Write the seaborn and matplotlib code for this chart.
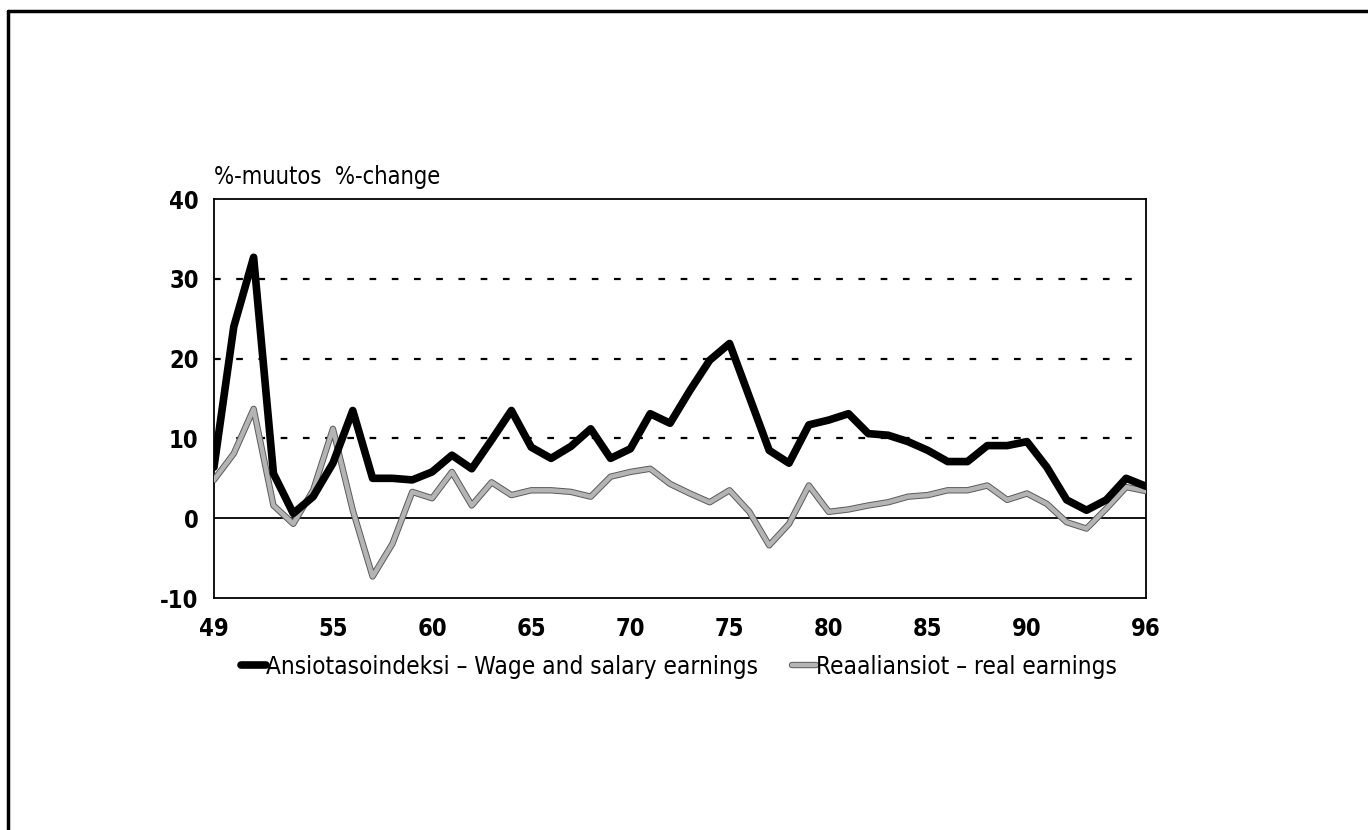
import pandas as pd
import matplotlib.pyplot as plt
import matplotlib.patheffects as pe
from matplotlib.lines import Line2D
from matplotlib.ticker import MultipleLocator, FixedLocator
import seaborn as sns

# Vuodet 1949-1996
years = list(range(49, 97))

# Ansiotasoindeksi - Wage and salary earnings (%-muutos)
wage = [6.4, 24.0, 32.7, 5.6, 0.6, 2.7, 6.9, 13.5, 5.0, 5.0,
        4.8, 5.8, 7.9, 6.2, 9.8, 13.5, 8.9, 7.5, 9.0, 11.2,
        7.5, 8.7, 13.1, 11.9, 16.0, 19.8, 21.9, 15.2, 8.5, 6.9,
        11.7, 12.3, 13.1, 10.6, 10.4, 9.6, 8.5, 7.1, 7.1, 9.1,
        9.1, 9.6, 6.4, 2.3, 1.0, 2.3, 5.0, 4.0]

# Reaaliansiot - real earnings (%-muutos)
real = [4.8, 8.1, 13.7, 1.6, -0.7, 3.5, 11.2, 1.0, -7.3, -3.2,
        3.3, 2.5, 5.8, 1.6, 4.5, 2.9, 3.5, 3.5, 3.3, 2.7,
        5.2, 5.8, 6.2, 4.3, 3.1, 2.0, 3.5, 0.8, -3.4, -0.7,
        4.1, 0.8, 1.1, 1.6, 2.0, 2.7, 2.9, 3.5, 3.5, 4.1,
        2.3, 3.1, 1.8, -0.5, -1.3, 1.2, 3.9, 3.4]

xtick_labels = [49, 55, 60, 65, 70, 75, 80, 85, 90, 96]
ytick_values = [-10, 0, 10, 20, 30, 40]

wage_label = "Ansiotasoindeksi \u2013 Wage and salary earnings"
real_label = "Reaaliansiot \u2013 real earnings"

sns.set_style("white")
plt.rcParams['font.family'] = ['DejaVu Sans']
plt.rcParams['font.stretch'] = 'condensed'
plt.rcParams['axes.unicode_minus'] = False
plt.rcParams['text.color'] = 'black'
plt.rcParams['xtick.color'] = 'black'
plt.rcParams['ytick.color'] = 'black'

df = pd.DataFrame({'vuosi': years, 'wage': wage, 'real': real})

fig = plt.figure(figsize=(13.68, 8.30), dpi=100)
ax = fig.add_axes([0.1564, 0.2795, 0.6813, 0.4807])

# Ruudukko
for v in [10, 20, 30]:
    ax.axhline(v, color='black', lw=1.6, ls=(0, (3, 7)), zorder=1)
ax.axhline(0, color='black', lw=1.3, zorder=1)

sns.lineplot(data=df, x='vuosi', y='real', ax=ax, color='#b4b4b4', lw=3.2,
             zorder=3, label=real_label,
             path_effects=[pe.Stroke(linewidth=4.6, foreground='#5a5a5a'), pe.Normal()])
sns.lineplot(data=df, x='vuosi', y='wage', ax=ax, color='black', lw=5.5,
             zorder=4, label=wage_label)

ax.set_xlim(49, 96)
ax.set_ylim(-10, 40)
ax.xaxis.set_major_locator(FixedLocator(xtick_labels))
ax.xaxis.set_minor_locator(MultipleLocator(1))
ax.yaxis.set_major_locator(FixedLocator(ytick_values))
ax.set_xticklabels([str(v) for v in xtick_labels])
ax.set_yticklabels([str(v) for v in ytick_values])
ax.tick_params(axis='x', which='both', direction='in', length=12, width=1.2,
               color='black', pad=14)
ax.tick_params(axis='y', which='major', direction='in', length=8, width=1.2,
               color='black', pad=11)
for lab in ax.get_xticklabels() + ax.get_yticklabels():
    lab.set_fontsize(17)
    lab.set_fontweight('bold')
    lab.set_fontstretch('condensed')
ax.set_xlabel('')
ax.set_ylabel('')
for s in ax.spines.values():
    s.set_color('black')
    s.set_linewidth(1.3)

ax.text(0.0, 1.025, "%-muutos  %-change", transform=ax.transAxes,
        fontsize=17, ha='left', va='bottom', fontstretch='condensed',
        fontweight='medium')

# Selite
h, l = ax.get_legend_handles_labels()
leg = ax.legend([h[1], h[0]], [l[1], l[0]], loc='upper center',
                bbox_to_anchor=(0.499, -0.088), ncol=2, frameon=False,
                fontsize=17.5, handlelength=1.0, handletextpad=0.0,
                columnspacing=1.4)
for t in leg.get_texts():
    t.set_fontstretch('condensed')
    t.set_fontweight('medium')

# Kehys
fig.add_artist(Line2D([0.006, 1.0], [0.987, 0.987], color='black', lw=2.5))
fig.add_artist(Line2D([0.006, 0.006], [0.0, 0.987], color='black', lw=2.5))

fig.savefig('out.png', dpi=100, facecolor='white')
